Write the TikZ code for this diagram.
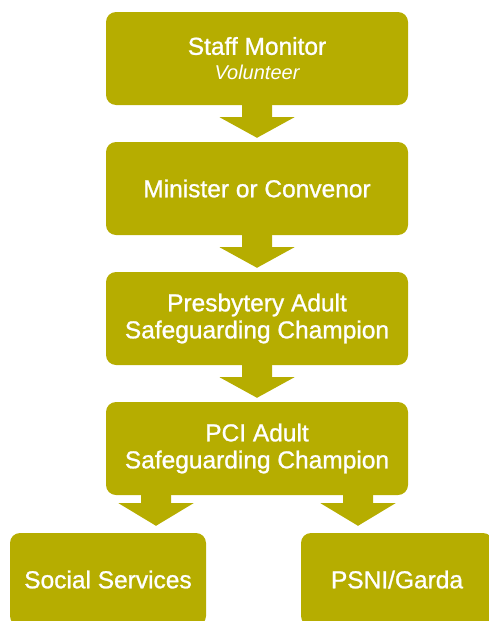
\documentclass[tikz,border=0pt]{standalone}
\usepackage{fontspec}
\setmainfont{Liberation Sans}[UprightFeatures={FakeBold=1}]
\usetikzlibrary{calc}
\definecolor{olive}{RGB}{182,173,0}
\tikzset{
  stage/.style={fill=olive, rounded corners=10pt, text=white, align=center,
    minimum width=302pt, minimum height=93pt, inner sep=0pt,
    font=\fontsize{24.5}{27}\selectfont},
  arrowfill/.style={fill=olive}
}
% block arrow pointing down from a point on the source box to the target box
% #1 start coordinate, #2 target node, #3 stem length, #4 gap above target
\newcommand\blockarrow[4]{%
  \fill[arrowfill] ($(#1)+(-15,0)$) -- ++(0,#3) -- ++(-22.5,0)
    -- ($(#1 |- #2.north)+(0,-#4)$)
    -- ($(#1)+(37.5,#3)$) -- ++(-22.5,0) -- ($(#1)+(15,0)$) -- cycle;}
\begin{document}
\begin{tikzpicture}[x=1pt,y=-1pt]
\useasboundingbox (0,0) rectangle (488,621);

\node[stage] (s1) at (257,58.5) {Staff Monitor\\[-2pt]{\fontsize{20}{25}\selectfont\itshape Volunteer}};
\node[stage] (s2) at (257,188.5) {Minister or Convenor};
\node[stage] (s3) at (257,318.5) {Presbytery Adult\\Safeguarding Champion};
\node[stage] (s4) at (257,448.5) {PCI Adult\\Safeguarding Champion};
\node[stage, minimum width=196pt] (ss) at (108,579.5) {Social Services};
\node[stage, minimum width=192pt] (pg) at (397,579.5) {PSNI/Garda};

\coordinate (a1) at (s1.south);
\coordinate (a2) at (s2.south);
\coordinate (a3) at (s3.south);
\coordinate (a4l) at ($(s4.south)+(-101,0)$);
\coordinate (a4r) at ($(s4.south)+(101,0)$);

\blockarrow{a1}{s2}{12}{4}
\blockarrow{a2}{s3}{12}{4}
\blockarrow{a3}{s4}{12}{4}
\blockarrow{a4l}{ss}{8}{7}
\blockarrow{a4r}{pg}{8}{7}
\end{tikzpicture}
\end{document}
